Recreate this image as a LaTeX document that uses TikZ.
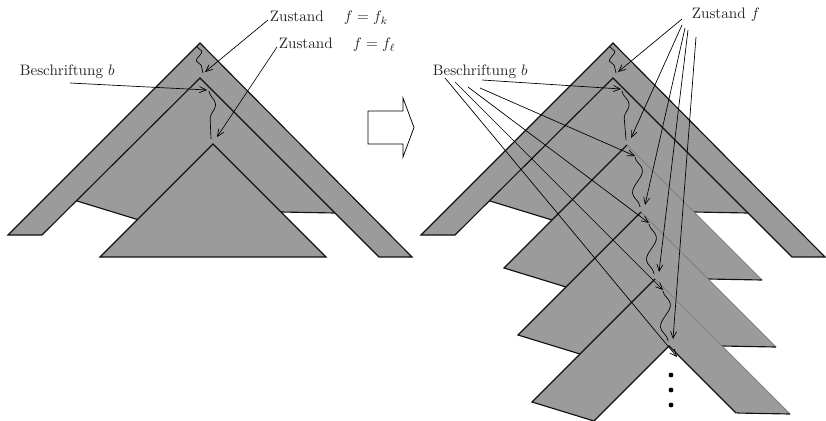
\documentclass[tikz,border=0pt]{standalone}
\usepackage{amsmath,amssymb}
\usepackage{tikz}
\usetikzlibrary{positioning,arrows.meta,calc,decorations.pathmorphing}
\usepackage{xcolor}
\definecolor{sheet}{HTML}{9B9B9B}
\definecolor{seam}{HTML}{808080}
\definecolor{ink}{HTML}{111111}

\begin{document}
\begin{tikzpicture}[x=0.232mm, y=-0.232mm, >={Straight Barb[length=4.5pt,width=4pt]},
    outline/.style={draw=ink, line width=0.75pt},
    crease/.style={draw=seam, line width=0.5pt},
    pointer/.style={->, line width=0.45pt},
    wiggle/.style={decorate, decoration={snake, amplitude=4pt, segment length=#1}, line width=0.45pt},
    wiggle/.default=29pt,
    tag/.style={inner sep=1pt, anchor=west, text=black!85}]
  \useasboundingbox (0,0) rectangle (826,420);
  \clip (0,0) rectangle (826,420);
  % left: one level and its subtree
  \coordinate (lO) at (200,43);
  \coordinate (lI) at (200,78);
  \coordinate (lC) at (213,144);
  \fill[sheet] (lI) -- +(-123,123) -- +(-61,142) -- +(81,134) -- +(135,135) -- cycle;
  \draw[outline] (lI) +(-123,123) -- +(-61,142) +(81,134) -- +(135,135);
  \draw[outline, fill=sheet] (lO) -- ++(-192,192) -- ++(34,0) -- (lI) -- ++(179,179) -- ++(33,0) -- cycle;
  \draw[outline, fill=sheet] (lC) -- ++(-113,113) -- ++(226,0) -- cycle;
  \draw[wiggle=11pt, decoration={amplitude=2.5pt}] ($(lO)+(-3,4)$) -- ($(lI)+(3,-5)$);
  \draw[wiggle] ($(lI)+(9,13)$) -- ($(lC)+(-2,-5)$);
  \node[tag] (besL) at (18,72) {Beschriftung $b$};
  \node[tag] (zk) at (268,18) {Zustand \quad $f=f_k$};
  \node[tag] (zl) at (277,45) {Zustand \quad $f=f_\ell$};
  \coordinate (lb) at ($(lI)+(7,12)$);
  \coordinate (lfk) at ($(lI)+(5,-6)$);
  \coordinate (lfl) at ($(lC)+(4,-7)$);
  \draw[pointer] ($(besL.west)+(52,11)$) -- (lb);
  \draw[pointer] ($(zk.west)+(0,2)$) -- (lfk);
  \draw[pointer] ($(zl.west)+(0,2)$) -- (lfl);
  % unfold
  \draw[line width=0.5pt, fill=white] (368,111) -- (403,111) -- (403,98) -- (414,127.5) -- (403,157) -- (403,144) -- (368,144) -- cycle;
  % right: the levels one below the other
  \coordinate (rO) at (613,43);
  \coordinate (rI) at (613,78);
  \foreach \k/\j in {2/1,3/2,4/3,5/4} \coordinate (a\k) at ($(rI)+\j*(14,67)$);
  \fill[sheet] (rI) -- +(-123,123) -- +(-61,142) -- +(81,134) -- +(135,135) -- cycle;
  \draw[outline] (rI) +(-123,123) -- +(-61,142) +(81,134) -- +(135,135);
  \foreach \k in {2,3,4} {
    \fill[sheet] (a\k) -- +(-123,123) -- +(-61,142) -- +(81,134) -- +(135,135) -- cycle;
    \draw[crease] (a\k) -- +(135,135);
    \draw[outline] (a\k) +(-61,142) -- +(-123,123) -- (a\k) +(81,134) -- +(135,135);
  }
  % last level, still open
  \fill[white] (a5) -- +(-170,170) -- +(170,170) -- cycle;
  \draw[outline] (a5) +(-170,170) -- (a5) -- +(67,67);
  \draw[outline, fill=sheet] (rO) -- ++(-192,192) -- ++(34,0) -- (rI) -- ++(179,179) -- ++(33,0) -- cycle;
  \draw[wiggle=11pt, decoration={amplitude=2.5pt}] ($(rO)+(-3,4)$) -- ($(rI)+(3,-5)$);
  \draw[wiggle] ($(rI)+(9,13)$) -- ($(a2)+(-1,-5)$);
  \foreach \k/\j in {2/3,3/4,4/5} \draw[wiggle] ($(a\k)+(8,12)$) -- ($(a\j)+(-1,-5)$);
  \foreach \y in {375,390,405} \fill (671,\y) circle (1.6pt);
  \node[tag] (besR) at (431,72) {Beschriftung $b$};
  \node[tag] (zf) at (690,15) {Zustand $f$};
  \coordinate (bt1) at ($(rI)+(8,11)$);
  \coordinate (ft1) at ($(rI)+(5,-6)$);
  \foreach \k in {2,...,5} {
    \coordinate (bt\k) at ($(a\k)+(8,11)$);
    \coordinate (ft\k) at ($(a\k)+(4,-7)$);
  }
  \foreach \k/\dx/\dy in {1/51/8, 2/49/16, 3/37/15, 4/24/10, 5/14/6}
    \draw[pointer] ($(besR.west)+(\dx,\dy)$) -- (bt\k);
  \foreach \k/\dx/\dy in {1/-8/4, 2/-8/10, 3/-5/13, 4/-2/15, 5/6/22}
    \draw[pointer] ($(zf.west)+(\dx,\dy)$) -- (ft\k);
\end{tikzpicture}
\end{document}
